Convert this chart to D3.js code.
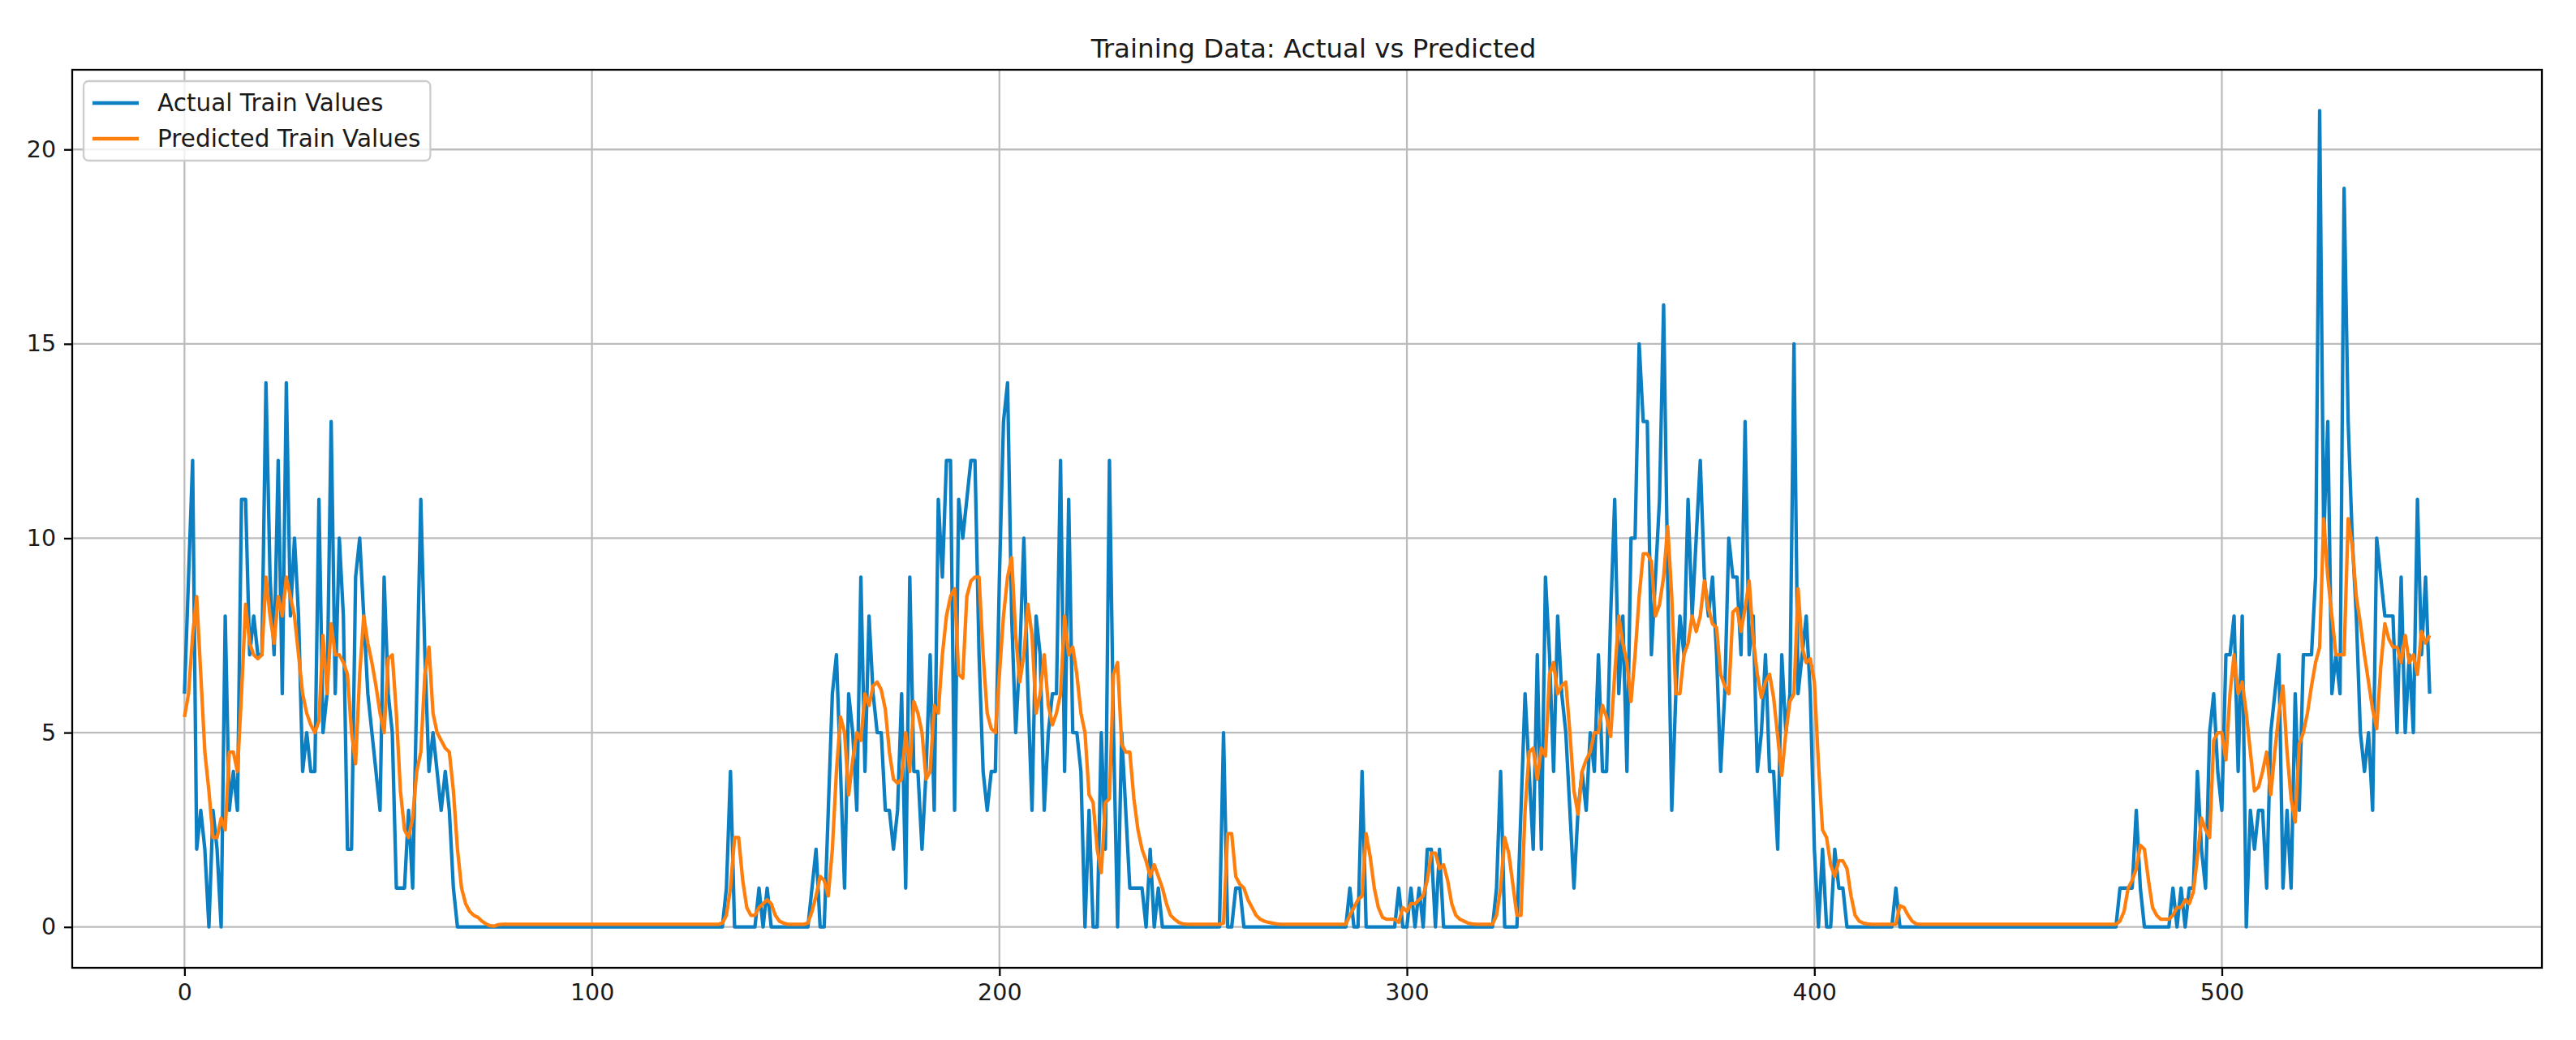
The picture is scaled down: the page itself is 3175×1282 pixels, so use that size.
<!DOCTYPE html>
<html><head><meta charset="utf-8">
<script src="https://cdn.jsdelivr.net/npm/d3@7"></script>
<style>html,body{margin:0;padding:0;background:#fff;} svg{display:block;}</style>
</head><body>
<svg id="chart" width="3175" height="1282"></svg>
<script>
const chartTitle = "Training Data: Actual vs Predicted";
const seriesNames = ["Actual Train Values", "Predicted Train Values"];
const seriesColors = ["#0b7fc2", "#ff7f0e"];
const xTicks = [0, 100, 200, 300, 400, 500];
const yTicks = [0, 5, 10, 15, 20];

const actual = [
6,9,12,2,3,2,0,3,2,0,
8,3,4,3,11,11,7,8,7,7,
14,9,7,12,6,14,8,10,8,4,
5,4,4,11,5,6,13,6,10,8,
2,2,9,10,8,6,5,4,3,9,
6,5,1,1,1,3,1,6,11,7,
4,5,4,3,4,3,1,0,0,0,
0,0,0,0,0,0,0,0,0,0,
0,0,0,0,0,0,0,0,0,0,
0,0,0,0,0,0,0,0,0,0,
0,0,0,0,0,0,0,0,0,0,
0,0,0,0,0,0,0,0,0,0,
0,0,0,0,0,0,0,0,0,0,
0,0,0,1,4,0,0,0,0,0,
0,1,0,1,0,0,0,0,0,0,
0,0,0,0,1,2,0,0,3,6,
7,4,1,6,5,3,9,4,8,6,
5,5,3,3,2,3,6,1,9,4,
4,2,4,7,3,11,9,12,12,3,
11,10,11,12,12,7,4,3,4,4,
9,13,14,8,5,7,10,6,3,8,
7,3,5,6,6,12,4,11,5,5,
4,0,3,0,0,5,2,12,5,0,
5,3,1,1,1,1,0,2,0,1,
0,0,0,0,0,0,0,0,0,0,
0,0,0,0,0,5,0,0,1,1,
0,0,0,0,0,0,0,0,0,0,
0,0,0,0,0,0,0,0,0,0,
0,0,0,0,0,0,1,0,0,4,
0,0,0,0,0,0,0,0,1,0,
0,1,0,1,0,2,2,0,2,0,
0,0,0,0,0,0,0,0,0,0,
0,0,1,4,0,0,0,0,3,6,
4,2,7,2,9,7,4,8,6,5,
3,1,3,4,3,5,4,7,4,4,
8,11,6,8,4,10,10,15,13,13,
7,9,11,16,9,3,6,8,7,11,
8,10,12,9,8,9,7,4,6,10,
9,9,7,13,7,8,4,5,7,4,
4,2,7,5,6,15,6,7,8,6,
2,0,2,0,0,2,1,1,0,0,
0,0,0,0,0,0,0,0,0,0,
1,0,0,0,0,0,0,0,0,0,
0,0,0,0,0,0,0,0,0,0,
0,0,0,0,0,0,0,0,0,0,
0,0,0,0,0,0,0,0,0,0,
0,0,0,0,0,0,0,0,0,0,
0,0,0,0,0,1,1,1,1,3,
1,0,0,0,0,0,0,0,1,0,
1,0,1,1,4,2,1,5,6,4,
3,7,7,8,4,8,0,3,2,3,
3,1,5,6,7,1,3,1,6,3,
7,7,7,9,21,10,13,6,7,6,
19,13,10,8,5,4,5,3,10,9,
8,8,8,5,9,5,7,5,11,7,
9,6
];

const predicted = [
5.4,6.0,7.5,8.5,6.5,4.5,3.5,2.3,2.3,2.8,
2.5,4.5,4.5,4.0,6.0,8.3,7.3,7.0,6.9,7.0,
9.0,8.0,7.3,8.5,8.0,9.0,8.5,8.0,7.0,6.0,
5.5,5.2,5.0,5.3,7.5,6.0,7.8,7.0,7.0,6.8,
6.5,5.0,4.2,6.5,8.0,7.3,6.8,6.2,5.5,5.0,
6.9,7.0,5.5,3.5,2.5,2.3,2.8,4.0,4.5,6.5,
7.2,5.5,5.0,4.8,4.6,4.5,3.5,2.0,1.0,0.6,
0.4,0.3,0.25,0.15,0.08,0.03,0.02,0.06,0.07,0.07,
0.07,0.07,0.07,0.07,0.07,0.07,0.07,0.07,0.07,0.07,
0.07,0.07,0.07,0.07,0.07,0.07,0.07,0.07,0.07,0.07,
0.07,0.07,0.07,0.07,0.07,0.07,0.07,0.07,0.07,0.07,
0.07,0.07,0.07,0.07,0.07,0.07,0.07,0.07,0.07,0.07,
0.07,0.07,0.07,0.07,0.07,0.07,0.07,0.07,0.07,0.07,
0.07,0.07,0.1,0.3,1.0,2.3,2.3,1.2,0.5,0.3,
0.3,0.5,0.6,0.7,0.6,0.3,0.15,0.1,0.07,0.07,
0.07,0.07,0.07,0.1,0.4,0.8,1.3,1.2,0.8,2.0,
4.0,5.4,5.0,3.4,4.3,5.0,4.8,6.0,5.7,6.2,
6.3,6.1,5.6,4.5,3.8,3.7,3.8,5.0,4.0,5.8,
5.5,5.0,3.8,4.0,5.7,5.5,7.0,8.0,8.5,8.7,
6.5,6.4,8.5,8.9,9.0,9.0,7.0,5.5,5.1,5.0,
6.5,8.0,9.0,9.5,7.5,6.3,7.0,8.3,7.5,5.5,
6.0,7.0,5.7,5.2,5.5,6.0,8.0,7.0,7.2,6.5,
5.5,5.0,3.4,3.2,2.0,1.4,3.2,3.3,6.5,6.8,
4.7,4.5,4.5,3.3,2.5,2.0,1.7,1.3,1.6,1.3,
1.0,0.6,0.3,0.2,0.12,0.08,0.07,0.07,0.07,0.07,
0.07,0.07,0.07,0.07,0.07,0.1,2.4,2.4,1.3,1.1,
1.0,0.7,0.5,0.3,0.2,0.15,0.12,0.1,0.08,0.07,
0.07,0.07,0.07,0.07,0.07,0.07,0.07,0.07,0.07,0.07,
0.07,0.07,0.07,0.07,0.07,0.07,0.3,0.5,0.7,0.8,
2.4,1.8,1.0,0.5,0.25,0.2,0.2,0.2,0.12,0.5,
0.4,0.6,0.6,0.7,0.8,1.2,1.9,1.9,1.5,1.6,
1.2,0.6,0.3,0.2,0.15,0.1,0.08,0.07,0.07,0.07,
0.07,0.07,0.3,1.0,2.3,1.9,1.1,0.3,0.3,3.0,
4.5,4.6,3.8,4.6,4.4,6.5,6.8,6.0,6.2,6.3,
5.0,3.5,2.9,4.0,4.3,4.5,5.0,5.0,5.7,5.4,
4.9,6.5,8.0,7.3,6.8,5.8,7.0,8.5,9.6,9.6,
9.4,8.0,8.3,9.0,10.3,8.5,6.0,6.0,7.0,7.3,
8.0,7.6,8.0,8.9,8.2,7.8,7.7,6.5,6.2,6.0,
8.1,8.2,7.6,8.2,8.9,7.4,6.5,5.9,6.3,6.5,
5.9,4.9,3.9,5.0,5.8,6.0,8.7,7.2,6.8,6.9,
6.3,4.2,2.5,2.3,1.6,1.3,1.7,1.7,1.5,0.8,
0.3,0.15,0.1,0.08,0.07,0.07,0.07,0.07,0.07,0.07,
0.07,0.55,0.5,0.3,0.15,0.08,0.07,0.07,0.07,0.07,
0.07,0.07,0.07,0.07,0.07,0.07,0.07,0.07,0.07,0.07,
0.07,0.07,0.07,0.07,0.07,0.07,0.07,0.07,0.07,0.07,
0.07,0.07,0.07,0.07,0.07,0.07,0.07,0.07,0.07,0.07,
0.07,0.07,0.07,0.07,0.07,0.07,0.07,0.07,0.07,0.07,
0.07,0.07,0.07,0.07,0.07,0.15,0.4,1.0,1.2,1.5,
2.1,2.0,1.2,0.5,0.3,0.2,0.2,0.2,0.3,0.5,
0.5,0.7,0.6,0.9,1.8,2.8,2.5,2.3,4.8,5.0,
5.0,4.3,6.0,7.0,6.0,6.3,5.5,4.5,3.5,3.6,
4.0,4.5,3.4,4.5,5.5,6.2,4.5,3.3,2.7,4.7,
5.0,5.5,6.2,6.8,7.2,10.5,9.0,8.0,7.0,7.0,
7.0,10.5,9.8,8.5,7.8,7.0,6.3,5.6,5.1,6.7,
7.8,7.4,7.2,7.2,6.8,7.5,6.8,7.0,6.5,7.6,
7.3,7.5
];

const W = 3175, H = 1282;
const PT = 2.85; // px per point
const FONT = "DejaVu Sans, Liberation Sans, sans-serif";
const plot = {left: 89, right: 3133, top: 86, bottom: 1193};

const svg = d3.select("#chart");
svg.append("rect").attr("width", W).attr("height", H).attr("fill", "#fff");

const n = actual.length;
const idx = d3.range(n);
const xPad = (n - 1) * 0.05;
const x = d3.scaleLinear().domain([-xPad, n - 1 + xPad]).range([plot.left, plot.right]);
const all = actual.concat(predicted);
const yLo = Math.min(0, d3.min(all)), yHi = d3.max(all);
const yPad = (yHi - yLo) * 0.05;
const y = d3.scaleLinear().domain([yLo - yPad, yHi + yPad]).range([plot.bottom, plot.top]);

svg.append("defs").append("clipPath").attr("id", "clip")
  .append("rect").attr("x", plot.left).attr("y", plot.top)
  .attr("width", plot.right - plot.left).attr("height", plot.bottom - plot.top);

// grid
const grid = svg.append("g").attr("stroke", "#bcbcbc").attr("stroke-width", 0.8 * PT);
grid.selectAll("line.v").data(xTicks).join("line").attr("class", "v")
  .attr("x1", d => x(d)).attr("x2", d => x(d)).attr("y1", plot.top).attr("y2", plot.bottom);
grid.selectAll("line.h").data(yTicks).join("line").attr("class", "h")
  .attr("y1", d => y(d)).attr("y2", d => y(d)).attr("x1", plot.left).attr("x2", plot.right);

// lines
const line = (arr) => d3.line().x(i => x(i)).y(i => y(arr[i]))(idx);
const lines = svg.append("g").attr("clip-path", "url(#clip)");
[actual, predicted].forEach((arr, k) => {
  lines.append("path").attr("d", line(arr)).attr("fill", "none")
    .attr("stroke", seriesColors[k]).attr("stroke-width", 1.5 * PT)
    .attr("stroke-linejoin", "round").attr("stroke-linecap", "butt");
});

// axes
const tickFs = 10 * PT;
const xAxis = d3.axisBottom(x).tickValues(xTicks).tickFormat(d3.format("d"))
  .tickSize(3.5 * PT).tickPadding(3.5 * PT);
const yAxis = d3.axisLeft(y).tickValues(yTicks).tickFormat(d3.format("d"))
  .tickSize(3.5 * PT).tickPadding(3.5 * PT);
const gx = svg.append("g").attr("transform", `translate(0,${plot.bottom})`).call(xAxis);
const gy = svg.append("g").attr("transform", `translate(${plot.left},0)`).call(yAxis);
[gx, gy].forEach(g => {
  g.select(".domain").remove();
  g.selectAll(".tick line").attr("stroke", "#000").attr("stroke-width", 0.8 * PT);
  g.selectAll(".tick text").attr("fill", "#1a1a1a")
    .style("font-family", FONT).style("font-size", tickFs + "px");
});

// spines
svg.append("rect").attr("x", plot.left).attr("y", plot.top)
  .attr("width", plot.right - plot.left).attr("height", plot.bottom - plot.top)
  .attr("fill", "none").attr("stroke", "#000").attr("stroke-width", 0.8 * PT);

// title
svg.append("text").attr("x", (plot.left + plot.right) / 2 + 8).attr("y", plot.top - 6 * PT + 2)
  .attr("text-anchor", "middle").attr("fill", "#1a1a1a")
  .style("font-family", FONT).style("font-size", "32.5px").text(chartTitle);

// legend
const fs = 29.5;
const lg = svg.append("g");
const lx = plot.left + 14, ly = plot.top + 14;
const rowH = 44;
const box = lg.append("rect").attr("x", lx).attr("y", ly).attr("rx", 6).attr("ry", 6)
  .attr("fill", "#fff").attr("fill-opacity", 0.8).attr("stroke", "#cccccc").attr("stroke-width", 0.8 * PT);
let maxW = 0;
seriesNames.forEach((name, k) => {
  const cy = ly + 27 + k * rowH;
  lg.append("line").attr("x1", lx + 11).attr("x2", lx + 68)
    .attr("y1", cy).attr("y2", cy).attr("stroke", seriesColors[k]).attr("stroke-width", 1.5 * PT);
  const t = lg.append("text").attr("x", lx + 91).attr("y", cy).attr("dy", "0.35em")
    .attr("fill", "#1a1a1a").style("font-family", FONT).style("font-size", fs + "px").text(name);
  maxW = Math.max(maxW, t.node().getComputedTextLength());
});
box.attr("width", 91 + maxW + 12).attr("height", 98);
</script>
</body></html>
